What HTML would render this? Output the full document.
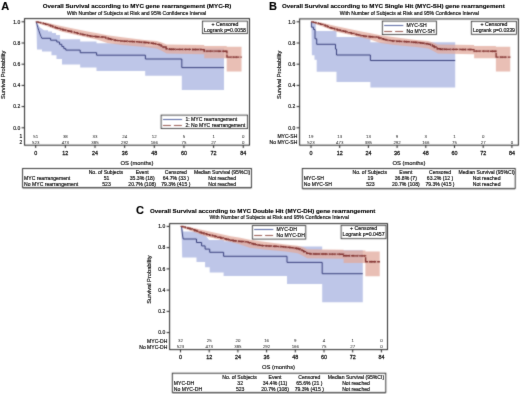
<!DOCTYPE html>
<html><head><meta charset="utf-8"><style>
html,body{margin:0;padding:0;background:#fff;}
svg{display:block;font-family:"Liberation Sans", sans-serif;}
</style></head><body>
<svg width="520" height="394" viewBox="0 0 520 394">
<defs><filter id="soft" x="0" y="0" width="520" height="394" filterUnits="userSpaceOnUse" color-interpolation-filters="sRGB"><feConvolveMatrix order="3" kernelMatrix="1 2 1 2 12 2 1 2 1" divisor="24" edgeMode="duplicate"/></filter>
<filter id="softt" x="0" y="0" width="520" height="394" filterUnits="userSpaceOnUse" color-interpolation-filters="sRGB"><feConvolveMatrix order="3" kernelMatrix="0 1 0 1 12 1 0 1 0" divisor="16" edgeMode="none" preserveAlpha="false"/></filter></defs>
<g filter="url(#soft)">
<rect width="520" height="394" fill="#fff"/>
<path d="M36.3,21.9 L40,27.6 L44,30.3 H48 V31.5 H52 V33 H56 V35 H60 V39.3 H80.2 V41.6 H96.5 V43.3 H145.2 V46 H166 V48.5 H224 V90 H181.8 V75.8 H145.2 V71 H96.5 V67.6 H80.2 V64.5 H62 V59 H56.5 V55.3 H51.5 V51.4 H42 V49.5 H37 L36.6,30Z" fill="#bec6e8"/>
<path d="M35.7,21.8 L38.17,21.91 L45.58,22.54 L62.14,26.25 L87.59,31.55 L97.48,33.25 L107.36,35.16 L122.19,37.17 L144.42,39.93 L156.78,41.09 L161.72,42.47 L166.66,44.48 L204.22,45.01 L204.22,45.97 L226.71,45.97 L226.71,46.82 L241.53,46.82 L241.53,71.51 L226.71,71.51 L226.71,58.26 L204.22,58.26 L204.22,54.13 L166.66,53.6 L161.72,50.84 L156.78,48.51 L144.42,46.92 L122.19,44.91 L107.36,43 L97.48,39.82 L87.59,37.49 L62.14,31.87 L45.58,25.83 L38.17,23.28 L35.7,21.8Z" fill="rgba(226,170,156,0.75)"/>
<path d="M36.3,21.9 L37,24.5 L37.8,27.5 L38.8,30.5 L40,34 L41,36.5 L41.8,38.3 H50.6 V40.2 H56.8 V42 H59.5 V44.3 H61.8 V46.5 H63.8 V48.6 H65.8 V50.1 H80.2 V52.7 H96.6 V55.2 H145.4 V59 H181.8 V67.6 H224" fill="none" stroke="#2e3674" stroke-width="0.95"/>
<path d="M35.7,21.8 L38.17,21.8 L38.17,22.33 L40.64,22.33 L40.64,22.86 L43.11,22.86 L43.11,23.6 L45.58,23.6 L45.58,24.34 L48.06,24.34 L48.06,25.14 L50.53,25.14 L50.53,25.93 L52.75,25.93 L52.75,26.75 L54.97,26.75 L54.97,27.56 L57.2,27.56 L57.2,28.37 L60.04,28.37 L60.04,29.17 L62.88,29.17 L62.88,29.96 L65.85,29.96 L65.85,30.6 L68.81,30.6 L68.81,31.23 L71.53,31.23 L71.53,31.92 L74.25,31.92 L74.25,32.61 L77.21,32.61 L77.21,33.35 L80.18,33.35 L80.18,34.1 L82.65,34.1 L82.65,34.63 L85.12,34.63 L85.12,35.16 L87.59,35.16 L87.59,35.63 L90.06,35.63 L90.06,36.11 L93.15,36.11 L93.15,36.43 L96.24,36.43 L96.24,36.75 L98.55,36.75 L98.55,36.89 L100.85,36.89 L100.85,37.03 L103.16,37.03 L103.16,37.17 L105.63,37.17 L105.63,37.97 L108.1,37.97 L108.1,38.76 L110.57,38.76 L110.57,39.4 L113.04,39.4 L113.04,40.03 L115.27,40.03 L115.27,40.35 L117.49,40.35 L117.49,40.67 L119.71,40.67 L119.71,40.99 L122.19,40.99 L122.19,41.12 L124.66,41.12 L124.66,41.25 L127.13,41.25 L127.13,41.38 L129.6,41.38 L129.6,41.52 L132.07,41.52 L132.07,41.62 L134.54,41.62 L134.54,41.73 L137.01,41.73 L137.01,41.83 L139.48,41.83 L139.48,42.05 L141.95,42.05 L141.95,42.26 L144.42,42.26 L144.42,42.47 L146.9,42.47 L146.9,42.68 L149.06,42.68 L149.06,42.97 L151.22,42.97 L151.22,43.26 L153.38,43.26 L153.38,43.56 L155.54,43.56 L155.54,43.85 L157.4,43.85 L157.4,44.38 L159.25,44.38 L159.25,44.91 L161.1,44.91 L161.1,45.97 L162.96,45.97 L162.96,47.03 L166.17,47.03 L166.17,48.72 L169.13,48.72 L169.13,49.25 L171.61,49.25 L171.61,49.28 L174.08,49.28 L174.08,49.3 L176.55,49.3 L176.55,49.32 L179.02,49.32 L179.02,49.34 L181.49,49.34 L181.49,49.37 L183.96,49.37 L183.96,49.39 L186.43,49.39 L186.43,49.41 L188.9,49.41 L188.9,49.44 L191.37,49.44 L191.37,49.46 L193.84,49.46 L193.84,49.48 L196.31,49.48 L196.31,49.5 L198.79,49.5 L198.79,49.53 L201.26,49.53 L201.26,49.55 L203.73,49.55 L203.73,49.57 L204.22,49.57 L204.22,51.06 L206.69,51.06 L206.69,51.08 L209.16,51.08 L209.16,51.1 L211.64,51.1 L211.64,51.13 L214.11,51.13 L214.11,51.15 L216.58,51.15 L216.58,51.17 L219.05,51.17 L219.05,51.2 L221.52,51.2 L221.52,51.22 L223.99,51.22 L223.99,51.24 L226.46,51.24 L226.46,51.27 L226.96,51.27 L226.96,57.1 L241.78,57.1" fill="none" stroke="#80302e" stroke-width="1.35" stroke-dasharray="7 1"/>
<path d="M50.53,24.83v2.2M55.83,26.77v2.2M60.28,28.14v2.2M67.21,29.79v2.2M71.27,30.76v2.2M77.63,32.36v2.2M83.14,33.63v2.2M87.13,34.44v2.2M90.62,35.07v2.2M92.25,35.24v2.2M95.45,35.56v2.2M97.21,35.71v2.2M99.05,35.82v2.2M102.21,36.01v2.2M106.96,37.29v2.2M108.94,37.88v2.2M111.3,38.48v2.2M115.26,39.25v2.2M120.49,39.93v2.2M124.26,40.13v2.2M127.31,40.29v2.2M132.65,40.55v2.2M134.32,40.62v2.2M139.19,40.92v2.2M141.82,41.15v2.2M143.88,41.32v2.2M145.82,41.49v2.2M148.53,41.8v2.2M153.23,42.44v2.2M155.43,42.73v2.2M159.21,43.8v2.2M163.22,46.07v2.2M166.18,47.63v2.2M169.83,48.16v2.2M171.56,48.18v2.2M173.27,48.19v2.2M175.57,48.21v2.2M179.74,48.25v2.2M182.92,48.28v2.2M185.64,48.31v2.2M189.44,48.34v2.2M192.71,48.37v2.2M195.38,48.4v2.2M200.01,48.44v2.2M204.25,49.96v2.2M206.7,49.98v2.2M210.45,50.02v2.2M214.01,50.05v2.2M218.95,50.1v2.2M223.32,50.14v2.2M225.94,50.16v2.2M231.3,56v2.2M233.25,56v2.2M236.38,56v2.2" stroke="#80302e" stroke-width="0.55" fill="none"/>
<rect x="24.55" y="18.6" width="224.95" height="126.6" fill="none" stroke="#262626" stroke-width="1"/>
<line x1="21.55" y1="127.8" x2="24.55" y2="127.8" stroke="#262626" stroke-width="1"/>
<line x1="21.55" y1="106.6" x2="24.55" y2="106.6" stroke="#262626" stroke-width="1"/>
<line x1="21.55" y1="85.4" x2="24.55" y2="85.4" stroke="#262626" stroke-width="1"/>
<line x1="21.55" y1="64.2" x2="24.55" y2="64.2" stroke="#262626" stroke-width="1"/>
<line x1="21.55" y1="43" x2="24.55" y2="43" stroke="#262626" stroke-width="1"/>
<line x1="21.55" y1="21.8" x2="24.55" y2="21.8" stroke="#262626" stroke-width="1"/>
<line x1="35.7" y1="145.2" x2="35.7" y2="148" stroke="#262626" stroke-width="1"/>
<line x1="65.35" y1="145.2" x2="65.35" y2="148" stroke="#262626" stroke-width="1"/>
<line x1="95" y1="145.2" x2="95" y2="148" stroke="#262626" stroke-width="1"/>
<line x1="124.66" y1="145.2" x2="124.66" y2="148" stroke="#262626" stroke-width="1"/>
<line x1="154.31" y1="145.2" x2="154.31" y2="148" stroke="#262626" stroke-width="1"/>
<line x1="183.96" y1="145.2" x2="183.96" y2="148" stroke="#262626" stroke-width="1"/>
<line x1="213.61" y1="145.2" x2="213.61" y2="148" stroke="#262626" stroke-width="1"/>
<line x1="243.26" y1="145.2" x2="243.26" y2="148" stroke="#262626" stroke-width="1"/>
<rect x="202.4" y="21.1" width="45.2" height="12.5" fill="#fff" stroke="#262626" stroke-width="0.8"/>
<rect x="161.1" y="115.1" width="86.5" height="13.5" fill="#fff" stroke="#262626" stroke-width="0.8"/>
<line x1="162.9" y1="119.5" x2="182.1" y2="119.5" stroke="#5766a2" stroke-width="1"/>
<line x1="162.9" y1="125.5" x2="182.1" y2="125.5" stroke="#985850" stroke-width="1" stroke-dasharray="8 3"/>
<rect x="22.6" y="168.5" width="228.8" height="19.1" fill="none" stroke="#262626" stroke-width="0.9"/>
<line x1="22.6" y1="188.3" x2="251.4" y2="188.3" stroke="#777" stroke-width="0.7"/>
<path d="M311.4,21.9 L315.8,23.2 V30.9 H336.5 V37 H370.4 V42.2 H455.2 V87.6 H370.4 V82 H336.5 V71.7 H316.7 V59.8 H314.5 V55.2 H311.9 Z" fill="#bec6e8"/>
<path d="M311,21.8 L313.39,21.91 L320.57,22.54 L336.59,26.25 L361.23,31.55 L370.79,33.25 L380.36,35.16 L394.71,37.17 L416.23,39.93 L428.19,41.09 L432.98,42.47 L437.76,44.48 L474.11,45.01 L474.11,45.97 L495.88,45.97 L495.88,46.82 L510.23,46.82 L510.23,71.51 L495.88,71.51 L495.88,58.26 L474.11,58.26 L474.11,54.13 L437.76,53.6 L432.98,50.84 L428.19,48.51 L416.23,46.92 L394.71,44.91 L380.36,43 L370.79,39.82 L361.23,37.49 L336.59,31.87 L320.57,25.83 L313.39,23.28 L311,21.8Z" fill="rgba(226,170,156,0.75)"/>
<path d="M311.4,21.9 V27.2 H313.6 V29.5 H315 V38.8 H316.7 V44.3 H335.5 V49.1 H336.5 V55 H370.4 V60.5 H455.2" fill="none" stroke="#2e3674" stroke-width="0.95"/>
<path d="M311,21.8 L313.39,21.8 L313.39,22.33 L315.78,22.33 L315.78,22.86 L318.18,22.86 L318.18,23.6 L320.57,23.6 L320.57,24.34 L322.96,24.34 L322.96,25.14 L325.35,25.14 L325.35,25.93 L327.5,25.93 L327.5,26.75 L329.66,26.75 L329.66,27.56 L331.81,27.56 L331.81,28.37 L334.56,28.37 L334.56,29.17 L337.31,29.17 L337.31,29.96 L340.18,29.96 L340.18,30.6 L343.05,30.6 L343.05,31.23 L345.68,31.23 L345.68,31.92 L348.31,31.92 L348.31,32.61 L351.18,32.61 L351.18,33.35 L354.05,33.35 L354.05,34.1 L356.44,34.1 L356.44,34.63 L358.83,34.63 L358.83,35.16 L361.23,35.16 L361.23,35.63 L363.62,35.63 L363.62,36.11 L366.61,36.11 L366.61,36.43 L369.6,36.43 L369.6,36.75 L371.83,36.75 L371.83,36.89 L374.06,36.89 L374.06,37.03 L376.29,37.03 L376.29,37.17 L378.69,37.17 L378.69,37.97 L381.08,37.97 L381.08,38.76 L383.47,38.76 L383.47,39.4 L385.86,39.4 L385.86,40.03 L388.01,40.03 L388.01,40.35 L390.17,40.35 L390.17,40.67 L392.32,40.67 L392.32,40.99 L394.71,40.99 L394.71,41.12 L397.1,41.12 L397.1,41.25 L399.49,41.25 L399.49,41.38 L401.88,41.38 L401.88,41.52 L404.28,41.52 L404.28,41.62 L406.67,41.62 L406.67,41.73 L409.06,41.73 L409.06,41.83 L411.45,41.83 L411.45,42.05 L413.84,42.05 L413.84,42.26 L416.23,42.26 L416.23,42.47 L418.63,42.47 L418.63,42.68 L420.72,42.68 L420.72,42.97 L422.81,42.97 L422.81,43.26 L424.9,43.26 L424.9,43.56 L427,43.56 L427,43.85 L428.79,43.85 L428.79,44.38 L430.59,44.38 L430.59,44.91 L432.38,44.91 L432.38,45.97 L434.17,45.97 L434.17,47.03 L437.28,47.03 L437.28,48.72 L440.15,48.72 L440.15,49.25 L442.54,49.25 L442.54,49.28 L444.94,49.28 L444.94,49.3 L447.33,49.3 L447.33,49.32 L449.72,49.32 L449.72,49.34 L452.11,49.34 L452.11,49.37 L454.5,49.37 L454.5,49.39 L456.89,49.39 L456.89,49.41 L459.29,49.41 L459.29,49.44 L461.68,49.44 L461.68,49.46 L464.07,49.46 L464.07,49.48 L466.46,49.48 L466.46,49.5 L468.85,49.5 L468.85,49.53 L471.24,49.53 L471.24,49.55 L473.64,49.55 L473.64,49.57 L474.11,49.57 L474.11,51.06 L476.51,51.06 L476.51,51.08 L478.9,51.08 L478.9,51.1 L481.29,51.1 L481.29,51.13 L483.68,51.13 L483.68,51.15 L486.07,51.15 L486.07,51.17 L488.46,51.17 L488.46,51.2 L490.86,51.2 L490.86,51.22 L493.25,51.22 L493.25,51.24 L495.64,51.24 L495.64,51.27 L496.12,51.27 L496.12,57.1 L510.47,57.1" fill="none" stroke="#80302e" stroke-width="1.35" stroke-dasharray="7 1"/>
<path d="M325.35,24.83v2.2M330.49,26.77v2.2M334.8,28.14v2.2M341.5,29.79v2.2M345.43,30.76v2.2M351.58,32.36v2.2M356.92,33.63v2.2M360.78,34.44v2.2M364.16,35.07v2.2M365.74,35.24v2.2M368.83,35.56v2.2M370.54,35.71v2.2M372.32,35.82v2.2M375.38,36.01v2.2M379.98,37.29v2.2M381.89,37.88v2.2M384.17,38.48v2.2M388.01,39.25v2.2M393.07,39.93v2.2M396.72,40.13v2.2M399.67,40.29v2.2M404.84,40.55v2.2M406.45,40.62v2.2M411.17,40.92v2.2M413.72,41.15v2.2M415.7,41.32v2.2M417.59,41.49v2.2M420.2,41.8v2.2M424.76,42.44v2.2M426.89,42.73v2.2M430.55,43.8v2.2M434.43,46.07v2.2M437.29,47.63v2.2M440.82,48.16v2.2M442.5,48.18v2.2M444.16,48.19v2.2M446.38,48.21v2.2M450.42,48.25v2.2M453.49,48.28v2.2M456.13,48.31v2.2M459.81,48.34v2.2M462.98,48.37v2.2M465.56,48.4v2.2M470.03,48.44v2.2M474.14,49.96v2.2M476.51,49.98v2.2M480.14,50.02v2.2M483.59,50.05v2.2M488.37,50.1v2.2M492.6,50.14v2.2M495.14,50.16v2.2M500.32,56v2.2M502.21,56v2.2M505.24,56v2.2" stroke="#80302e" stroke-width="0.55" fill="none"/>
<rect x="299.6" y="18.9" width="218.8" height="126.3" fill="none" stroke="#262626" stroke-width="1"/>
<line x1="296.6" y1="127.8" x2="299.6" y2="127.8" stroke="#262626" stroke-width="1"/>
<line x1="296.6" y1="106.6" x2="299.6" y2="106.6" stroke="#262626" stroke-width="1"/>
<line x1="296.6" y1="85.4" x2="299.6" y2="85.4" stroke="#262626" stroke-width="1"/>
<line x1="296.6" y1="64.2" x2="299.6" y2="64.2" stroke="#262626" stroke-width="1"/>
<line x1="296.6" y1="43" x2="299.6" y2="43" stroke="#262626" stroke-width="1"/>
<line x1="296.6" y1="21.8" x2="299.6" y2="21.8" stroke="#262626" stroke-width="1"/>
<line x1="311" y1="145.2" x2="311" y2="148" stroke="#262626" stroke-width="1"/>
<line x1="339.7" y1="145.2" x2="339.7" y2="148" stroke="#262626" stroke-width="1"/>
<line x1="368.4" y1="145.2" x2="368.4" y2="148" stroke="#262626" stroke-width="1"/>
<line x1="397.1" y1="145.2" x2="397.1" y2="148" stroke="#262626" stroke-width="1"/>
<line x1="425.8" y1="145.2" x2="425.8" y2="148" stroke="#262626" stroke-width="1"/>
<line x1="454.5" y1="145.2" x2="454.5" y2="148" stroke="#262626" stroke-width="1"/>
<line x1="483.2" y1="145.2" x2="483.2" y2="148" stroke="#262626" stroke-width="1"/>
<line x1="511.9" y1="145.2" x2="511.9" y2="148" stroke="#262626" stroke-width="1"/>
<rect x="471.3" y="21.3" width="45.3" height="13" fill="#fff" stroke="#262626" stroke-width="0.8"/>
<rect x="382.3" y="21.1" width="54.2" height="13.5" fill="#fff" stroke="#262626" stroke-width="0.8"/>
<line x1="384.1" y1="25.5" x2="403.3" y2="25.5" stroke="#5766a2" stroke-width="1"/>
<line x1="384.1" y1="31.5" x2="403.3" y2="31.5" stroke="#985850" stroke-width="1" stroke-dasharray="8 3"/>
<rect x="302.3" y="168.5" width="212.9" height="19.9" fill="none" stroke="#262626" stroke-width="0.9"/>
<line x1="302.3" y1="189.1" x2="515.2" y2="189.1" stroke="#777" stroke-width="0.7"/>
<path d="M181.5,226.3 L183.2,231.5 H196.5 L201,234 L205.7,235.8 L209,240 H224 V241.3 H235 L245,243 L260,245 L287,246.5 H322.2 V250.3 H362.8 V302.3 H322.2 V284.1 H287 V276 H223.6 V272.6 H209.7 V267.3 H205.1 V262 H196.5 V257.5 H182.2 L181.5,228 Z" fill="#bec6e8"/>
<path d="M180.5,226.4 L182.89,226.51 L190.07,227.14 L206.09,230.86 L230.73,236.17 L240.29,237.87 L249.86,239.78 L264.21,241.8 L285.73,244.56 L297.69,245.73 L302.48,247.11 L307.26,249.13 L343.61,249.66 L343.61,250.61 L365.38,250.61 L365.38,251.46 L379.73,251.46 L379.73,276.21 L365.38,276.21 L365.38,262.93 L343.61,262.93 L343.61,258.79 L307.26,258.26 L302.48,255.5 L297.69,253.16 L285.73,251.57 L264.21,249.55 L249.86,247.64 L240.29,244.45 L230.73,242.12 L206.09,236.49 L190.07,230.44 L182.89,227.89 L180.5,226.4Z" fill="rgba(226,170,156,0.75)"/>
<path d="M181.5,226.3 L182,231 L182.6,236 L183.2,239 H196.5 V242.5 H201.6 V245.9 H205.1 V249.1 H209.7 V252.3 H223.6 V256.3 H287 V262.4 H322.2 V273.7 H362.8" fill="none" stroke="#2e3674" stroke-width="0.95"/>
<path d="M180.5,226.4 L182.89,226.4 L182.89,226.93 L185.28,226.93 L185.28,227.46 L187.68,227.46 L187.68,228.21 L190.07,228.21 L190.07,228.95 L192.46,228.95 L192.46,229.75 L194.85,229.75 L194.85,230.54 L197,230.54 L197,231.36 L199.16,231.36 L199.16,232.17 L201.31,232.17 L201.31,232.98 L204.06,232.98 L204.06,233.78 L206.81,233.78 L206.81,234.58 L209.68,234.58 L209.68,235.21 L212.55,235.21 L212.55,235.85 L215.18,235.85 L215.18,236.54 L217.81,236.54 L217.81,237.23 L220.68,237.23 L220.68,237.98 L223.55,237.98 L223.55,238.72 L225.94,238.72 L225.94,239.25 L228.33,239.25 L228.33,239.78 L230.73,239.78 L230.73,240.26 L233.12,240.26 L233.12,240.74 L236.11,240.74 L236.11,241.06 L239.1,241.06 L239.1,241.37 L241.33,241.37 L241.33,241.52 L243.56,241.52 L243.56,241.66 L245.79,241.66 L245.79,241.8 L248.19,241.8 L248.19,242.6 L250.58,242.6 L250.58,243.39 L252.97,243.39 L252.97,244.03 L255.36,244.03 L255.36,244.67 L257.51,244.67 L257.51,244.99 L259.67,244.99 L259.67,245.3 L261.82,245.3 L261.82,245.62 L264.21,245.62 L264.21,245.75 L266.6,245.75 L266.6,245.89 L268.99,245.89 L268.99,246.02 L271.38,246.02 L271.38,246.15 L273.78,246.15 L273.78,246.26 L276.17,246.26 L276.17,246.37 L278.56,246.37 L278.56,246.47 L280.95,246.47 L280.95,246.68 L283.34,246.68 L283.34,246.9 L285.73,246.9 L285.73,247.11 L288.13,247.11 L288.13,247.32 L290.22,247.32 L290.22,247.61 L292.31,247.61 L292.31,247.91 L294.4,247.91 L294.4,248.2 L296.5,248.2 L296.5,248.49 L298.29,248.49 L298.29,249.02 L300.09,249.02 L300.09,249.55 L301.88,249.55 L301.88,250.61 L303.67,250.61 L303.67,251.68 L306.78,251.68 L306.78,253.37 L309.65,253.37 L309.65,253.91 L312.04,253.91 L312.04,253.93 L314.44,253.93 L314.44,253.95 L316.83,253.95 L316.83,253.97 L319.22,253.97 L319.22,254 L321.61,254 L321.61,254.02 L324,254.02 L324,254.04 L326.39,254.04 L326.39,254.07 L328.79,254.07 L328.79,254.09 L331.18,254.09 L331.18,254.11 L333.57,254.11 L333.57,254.13 L335.96,254.13 L335.96,254.16 L338.35,254.16 L338.35,254.18 L340.74,254.18 L340.74,254.2 L343.14,254.2 L343.14,254.22 L343.61,254.22 L343.61,255.71 L346.01,255.71 L346.01,255.73 L348.4,255.73 L348.4,255.76 L350.79,255.76 L350.79,255.78 L353.18,255.78 L353.18,255.81 L355.57,255.81 L355.57,255.83 L357.96,255.83 L357.96,255.85 L360.36,255.85 L360.36,255.88 L362.75,255.88 L362.75,255.9 L365.14,255.9 L365.14,255.92 L365.62,255.92 L365.62,261.76 L379.97,261.76" fill="none" stroke="#80302e" stroke-width="1.35" stroke-dasharray="7 1"/>
<path d="M194.85,229.44v2.2M199.99,231.38v2.2M204.3,232.75v2.2M211,234.41v2.2M214.93,235.38v2.2M221.08,236.98v2.2M226.42,238.26v2.2M230.28,239.07v2.2M233.66,239.69v2.2M235.24,239.86v2.2M238.33,240.19v2.2M240.04,240.33v2.2M241.82,240.45v2.2M244.88,240.64v2.2M249.48,241.93v2.2M251.39,242.51v2.2M253.67,243.12v2.2M257.51,243.88v2.2M262.57,244.56v2.2M266.22,244.77v2.2M269.17,244.93v2.2M274.34,245.18v2.2M275.95,245.26v2.2M280.67,245.56v2.2M283.22,245.79v2.2M285.2,245.96v2.2M287.09,246.13v2.2M289.7,246.44v2.2M294.26,247.08v2.2M296.39,247.37v2.2M300.05,248.44v2.2M303.93,250.72v2.2M306.79,252.28v2.2M310.32,252.81v2.2M312,252.83v2.2M313.66,252.84v2.2M315.88,252.87v2.2M319.92,252.9v2.2M322.99,252.93v2.2M325.63,252.96v2.2M329.31,252.99v2.2M332.48,253.02v2.2M335.06,253.05v2.2M339.53,253.09v2.2M343.64,254.61v2.2M346.01,254.63v2.2M349.64,254.67v2.2M353.09,254.7v2.2M357.87,254.75v2.2M362.1,254.79v2.2M364.64,254.82v2.2M369.82,260.66v2.2M371.71,260.66v2.2M374.74,260.66v2.2" stroke="#80302e" stroke-width="0.55" fill="none"/>
<rect x="169.6" y="223.6" width="217.9" height="126" fill="none" stroke="#262626" stroke-width="1"/>
<line x1="166.6" y1="332.6" x2="169.6" y2="332.6" stroke="#262626" stroke-width="1"/>
<line x1="166.6" y1="311.36" x2="169.6" y2="311.36" stroke="#262626" stroke-width="1"/>
<line x1="166.6" y1="290.12" x2="169.6" y2="290.12" stroke="#262626" stroke-width="1"/>
<line x1="166.6" y1="268.88" x2="169.6" y2="268.88" stroke="#262626" stroke-width="1"/>
<line x1="166.6" y1="247.64" x2="169.6" y2="247.64" stroke="#262626" stroke-width="1"/>
<line x1="166.6" y1="226.4" x2="169.6" y2="226.4" stroke="#262626" stroke-width="1"/>
<line x1="180.5" y1="349.6" x2="180.5" y2="352.4" stroke="#262626" stroke-width="1"/>
<line x1="209.2" y1="349.6" x2="209.2" y2="352.4" stroke="#262626" stroke-width="1"/>
<line x1="237.9" y1="349.6" x2="237.9" y2="352.4" stroke="#262626" stroke-width="1"/>
<line x1="266.6" y1="349.6" x2="266.6" y2="352.4" stroke="#262626" stroke-width="1"/>
<line x1="295.3" y1="349.6" x2="295.3" y2="352.4" stroke="#262626" stroke-width="1"/>
<line x1="324" y1="349.6" x2="324" y2="352.4" stroke="#262626" stroke-width="1"/>
<line x1="352.7" y1="349.6" x2="352.7" y2="352.4" stroke="#262626" stroke-width="1"/>
<line x1="381.4" y1="349.6" x2="381.4" y2="352.4" stroke="#262626" stroke-width="1"/>
<rect x="341.1" y="225.3" width="44.9" height="13.4" fill="#fff" stroke="#262626" stroke-width="0.8"/>
<rect x="252.3" y="225.6" width="53.5" height="13.5" fill="#fff" stroke="#262626" stroke-width="0.8"/>
<line x1="254.1" y1="229.5" x2="273.3" y2="229.5" stroke="#5766a2" stroke-width="1"/>
<line x1="254.1" y1="235.5" x2="273.3" y2="235.5" stroke="#985850" stroke-width="1" stroke-dasharray="8 3"/>
<rect x="172.3" y="373.2" width="213.5" height="19.2" fill="none" stroke="#262626" stroke-width="0.9"/>
<line x1="172.3" y1="393.1" x2="385.8" y2="393.1" stroke="#777" stroke-width="0.7"/>
</g>
<g filter="url(#softt)">
<text x="20.25" y="129.6" font-size="5" text-anchor="end" fill="#1a1a1a" stroke="#1a1a1a" stroke-width="0.18">0.0</text>
<text x="20.25" y="108.4" font-size="5" text-anchor="end" fill="#1a1a1a" stroke="#1a1a1a" stroke-width="0.18">0.2</text>
<text x="20.25" y="87.2" font-size="5" text-anchor="end" fill="#1a1a1a" stroke="#1a1a1a" stroke-width="0.18">0.4</text>
<text x="20.25" y="66" font-size="5" text-anchor="end" fill="#1a1a1a" stroke="#1a1a1a" stroke-width="0.18">0.6</text>
<text x="20.25" y="44.8" font-size="5" text-anchor="end" fill="#1a1a1a" stroke="#1a1a1a" stroke-width="0.18">0.8</text>
<text x="20.25" y="23.6" font-size="5" text-anchor="end" fill="#1a1a1a" stroke="#1a1a1a" stroke-width="0.18">1.0</text>
<text x="35.7" y="154.9" font-size="5.4" text-anchor="middle" fill="#1a1a1a" stroke="#1a1a1a" stroke-width="0.26">0</text>
<text x="65.35" y="154.9" font-size="5.4" text-anchor="middle" fill="#1a1a1a" stroke="#1a1a1a" stroke-width="0.26">12</text>
<text x="95" y="154.9" font-size="5.4" text-anchor="middle" fill="#1a1a1a" stroke="#1a1a1a" stroke-width="0.26">24</text>
<text x="124.66" y="154.9" font-size="5.4" text-anchor="middle" fill="#1a1a1a" stroke="#1a1a1a" stroke-width="0.26">36</text>
<text x="154.31" y="154.9" font-size="5.4" text-anchor="middle" fill="#1a1a1a" stroke="#1a1a1a" stroke-width="0.26">48</text>
<text x="183.96" y="154.9" font-size="5.4" text-anchor="middle" fill="#1a1a1a" stroke="#1a1a1a" stroke-width="0.26">60</text>
<text x="213.61" y="154.9" font-size="5.4" text-anchor="middle" fill="#1a1a1a" stroke="#1a1a1a" stroke-width="0.26">72</text>
<text x="243.26" y="154.9" font-size="5.4" text-anchor="middle" fill="#1a1a1a" stroke="#1a1a1a" stroke-width="0.26">84</text>
<text x="137.03" y="165" font-size="5.8" text-anchor="middle" fill="#1a1a1a" stroke="#1a1a1a" stroke-width="0.2">OS (months)</text>
<text x="0" y="0" font-size="5.7" text-anchor="middle" fill="#1a1a1a" stroke="#1a1a1a" stroke-width="0.2" transform="translate(5.25,74.8) rotate(-90)">Survival Probability</text>
<text x="1.2" y="10.1" font-size="11" text-anchor="start" font-weight="bold" fill="#000" stroke="#000" stroke-width="0.14">A</text>
<text x="137" y="8.3" font-size="6.2" text-anchor="middle" font-weight="bold" fill="#000" stroke="#000" stroke-width="0.14">Overall Survival according to MYC gene rearrangement (MYC-R)</text>
<text x="136.6" y="14.5" font-size="5.07" text-anchor="middle" fill="#1a1a1a" stroke="#1a1a1a" stroke-width="0.2">With Number of Subjects at Risk and 95% Confidence Interval</text>
<text x="22.25" y="138.16" font-size="4.9" text-anchor="end" fill="#1a1a1a" stroke="#1a1a1a" stroke-width="0.2">1</text>
<text x="22.25" y="144.06" font-size="4.9" text-anchor="end" fill="#1a1a1a" stroke="#1a1a1a" stroke-width="0.2">2</text>
<text x="35.7" y="138" font-size="4.4" text-anchor="middle" fill="#3a3a3a" stroke="#3a3a3a" stroke-width="0.04">51</text>
<text x="65.35" y="138" font-size="4.4" text-anchor="middle" fill="#3a3a3a" stroke="#3a3a3a" stroke-width="0.04">38</text>
<text x="95" y="138" font-size="4.4" text-anchor="middle" fill="#3a3a3a" stroke="#3a3a3a" stroke-width="0.04">33</text>
<text x="124.66" y="138" font-size="4.4" text-anchor="middle" fill="#3a3a3a" stroke="#3a3a3a" stroke-width="0.04">24</text>
<text x="154.31" y="138" font-size="4.4" text-anchor="middle" fill="#3a3a3a" stroke="#3a3a3a" stroke-width="0.04">12</text>
<text x="183.96" y="138" font-size="4.4" text-anchor="middle" fill="#3a3a3a" stroke="#3a3a3a" stroke-width="0.04">5</text>
<text x="213.61" y="138" font-size="4.4" text-anchor="middle" fill="#3a3a3a" stroke="#3a3a3a" stroke-width="0.04">1</text>
<text x="243.26" y="138" font-size="4.4" text-anchor="middle" fill="#3a3a3a" stroke="#3a3a3a" stroke-width="0.04">0</text>
<text x="35.7" y="143.9" font-size="4.4" text-anchor="middle" fill="#3a3a3a" stroke="#3a3a3a" stroke-width="0.04">523</text>
<text x="65.35" y="143.9" font-size="4.4" text-anchor="middle" fill="#3a3a3a" stroke="#3a3a3a" stroke-width="0.04">473</text>
<text x="95" y="143.9" font-size="4.4" text-anchor="middle" fill="#3a3a3a" stroke="#3a3a3a" stroke-width="0.04">385</text>
<text x="124.66" y="143.9" font-size="4.4" text-anchor="middle" fill="#3a3a3a" stroke="#3a3a3a" stroke-width="0.04">292</text>
<text x="154.31" y="143.9" font-size="4.4" text-anchor="middle" fill="#3a3a3a" stroke="#3a3a3a" stroke-width="0.04">166</text>
<text x="183.96" y="143.9" font-size="4.4" text-anchor="middle" fill="#3a3a3a" stroke="#3a3a3a" stroke-width="0.04">75</text>
<text x="213.61" y="143.9" font-size="4.4" text-anchor="middle" fill="#3a3a3a" stroke="#3a3a3a" stroke-width="0.04">27</text>
<text x="243.26" y="143.9" font-size="4.4" text-anchor="middle" fill="#3a3a3a" stroke="#3a3a3a" stroke-width="0.04">0</text>
<text x="225" y="25.9" font-size="5.2" text-anchor="middle" fill="#1a1a1a" stroke="#1a1a1a" stroke-width="0.2">+ Censored</text>
<text x="225" y="32" font-size="5.2" text-anchor="middle" fill="#1a1a1a" stroke="#1a1a1a" stroke-width="0.2">Logrank p=0.0058</text>
<text x="185.4" y="121.3" font-size="5.1" text-anchor="start" fill="#1a1a1a" stroke="#1a1a1a" stroke-width="0.2">1: MYC rearrangement</text>
<text x="185.4" y="127.3" font-size="5.1" text-anchor="start" fill="#1a1a1a" stroke="#1a1a1a" stroke-width="0.2">2: No MYC rearrangement</text>
<text x="105.9" y="173.8" font-size="5.1" text-anchor="middle" fill="#1a1a1a" stroke="#1a1a1a" stroke-width="0.2">No. of Subjects</text>
<text x="142.2" y="173.8" font-size="5.1" text-anchor="middle" fill="#1a1a1a" stroke="#1a1a1a" stroke-width="0.2">Event</text>
<text x="175.8" y="173.8" font-size="5.1" text-anchor="middle" fill="#1a1a1a" stroke="#1a1a1a" stroke-width="0.2">Censored</text>
<text x="222.1" y="173.8" font-size="5.1" text-anchor="middle" fill="#1a1a1a" stroke="#1a1a1a" stroke-width="0.2">Median Survival (95%CI)</text>
<text x="24.1" y="180" font-size="5.1" text-anchor="start" fill="#1a1a1a" stroke="#1a1a1a" stroke-width="0.2">MYC rearrangement</text>
<text x="106.5" y="180" font-size="5.1" text-anchor="middle" fill="#1a1a1a" stroke="#1a1a1a" stroke-width="0.2">51</text>
<text x="142.2" y="180" font-size="5.1" text-anchor="middle" fill="#1a1a1a" stroke="#1a1a1a" stroke-width="0.2">35.3% (18)</text>
<text x="175.8" y="180" font-size="5.1" text-anchor="middle" fill="#1a1a1a" stroke="#1a1a1a" stroke-width="0.2">64.7% (33 )</text>
<text x="222.1" y="180" font-size="5.1" text-anchor="middle" fill="#1a1a1a" stroke="#1a1a1a" stroke-width="0.2">Not reached</text>
<text x="24.1" y="185.8" font-size="5.1" text-anchor="start" fill="#1a1a1a" stroke="#1a1a1a" stroke-width="0.2">No MYC rearrangement</text>
<text x="106.5" y="185.8" font-size="5.1" text-anchor="middle" fill="#1a1a1a" stroke="#1a1a1a" stroke-width="0.2">523</text>
<text x="142.2" y="185.8" font-size="5.1" text-anchor="middle" fill="#1a1a1a" stroke="#1a1a1a" stroke-width="0.2">20.7% (108)</text>
<text x="175.8" y="185.8" font-size="5.1" text-anchor="middle" fill="#1a1a1a" stroke="#1a1a1a" stroke-width="0.2">79.3% (415 )</text>
<text x="222.1" y="185.8" font-size="5.1" text-anchor="middle" fill="#1a1a1a" stroke="#1a1a1a" stroke-width="0.2">Not reached</text>
<text x="295.3" y="129.6" font-size="5" text-anchor="end" fill="#1a1a1a" stroke="#1a1a1a" stroke-width="0.18">0.0</text>
<text x="295.3" y="108.4" font-size="5" text-anchor="end" fill="#1a1a1a" stroke="#1a1a1a" stroke-width="0.18">0.2</text>
<text x="295.3" y="87.2" font-size="5" text-anchor="end" fill="#1a1a1a" stroke="#1a1a1a" stroke-width="0.18">0.4</text>
<text x="295.3" y="66" font-size="5" text-anchor="end" fill="#1a1a1a" stroke="#1a1a1a" stroke-width="0.18">0.6</text>
<text x="295.3" y="44.8" font-size="5" text-anchor="end" fill="#1a1a1a" stroke="#1a1a1a" stroke-width="0.18">0.8</text>
<text x="295.3" y="23.6" font-size="5" text-anchor="end" fill="#1a1a1a" stroke="#1a1a1a" stroke-width="0.18">1.0</text>
<text x="311" y="154.9" font-size="5.4" text-anchor="middle" fill="#1a1a1a" stroke="#1a1a1a" stroke-width="0.26">0</text>
<text x="339.7" y="154.9" font-size="5.4" text-anchor="middle" fill="#1a1a1a" stroke="#1a1a1a" stroke-width="0.26">12</text>
<text x="368.4" y="154.9" font-size="5.4" text-anchor="middle" fill="#1a1a1a" stroke="#1a1a1a" stroke-width="0.26">24</text>
<text x="397.1" y="154.9" font-size="5.4" text-anchor="middle" fill="#1a1a1a" stroke="#1a1a1a" stroke-width="0.26">36</text>
<text x="425.8" y="154.9" font-size="5.4" text-anchor="middle" fill="#1a1a1a" stroke="#1a1a1a" stroke-width="0.26">48</text>
<text x="454.5" y="154.9" font-size="5.4" text-anchor="middle" fill="#1a1a1a" stroke="#1a1a1a" stroke-width="0.26">60</text>
<text x="483.2" y="154.9" font-size="5.4" text-anchor="middle" fill="#1a1a1a" stroke="#1a1a1a" stroke-width="0.26">72</text>
<text x="511.9" y="154.9" font-size="5.4" text-anchor="middle" fill="#1a1a1a" stroke="#1a1a1a" stroke-width="0.26">84</text>
<text x="409" y="165" font-size="5.8" text-anchor="middle" fill="#1a1a1a" stroke="#1a1a1a" stroke-width="0.2">OS (months)</text>
<text x="0" y="0" font-size="5.7" text-anchor="middle" fill="#1a1a1a" stroke="#1a1a1a" stroke-width="0.2" transform="translate(281.3,74.8) rotate(-90)">Survival Probability</text>
<text x="269.1" y="10.1" font-size="11" text-anchor="start" font-weight="bold" fill="#000" stroke="#000" stroke-width="0.14">B</text>
<text x="281.9" y="8.3" font-size="6.2" text-anchor="start" font-weight="bold" fill="#000" stroke="#000" stroke-width="0.14">Overall Survival according to MYC Single Hit (MYC-SH) gene rearrangement</text>
<text x="409.4" y="14.5" font-size="5.07" text-anchor="middle" fill="#1a1a1a" stroke="#1a1a1a" stroke-width="0.2">With Number of Subjects at Risk and 95% Confidence Interval</text>
<text x="297.3" y="138.22" font-size="5.05" text-anchor="end" fill="#1a1a1a" stroke="#1a1a1a" stroke-width="0.2">MYC-SH</text>
<text x="297.3" y="144.12" font-size="5.05" text-anchor="end" fill="#1a1a1a" stroke="#1a1a1a" stroke-width="0.2">No MYC-SH</text>
<text x="311" y="138" font-size="4.4" text-anchor="middle" fill="#3a3a3a" stroke="#3a3a3a" stroke-width="0.04">19</text>
<text x="339.7" y="138" font-size="4.4" text-anchor="middle" fill="#3a3a3a" stroke="#3a3a3a" stroke-width="0.04">13</text>
<text x="368.4" y="138" font-size="4.4" text-anchor="middle" fill="#3a3a3a" stroke="#3a3a3a" stroke-width="0.04">13</text>
<text x="397.1" y="138" font-size="4.4" text-anchor="middle" fill="#3a3a3a" stroke="#3a3a3a" stroke-width="0.04">9</text>
<text x="425.8" y="138" font-size="4.4" text-anchor="middle" fill="#3a3a3a" stroke="#3a3a3a" stroke-width="0.04">3</text>
<text x="454.5" y="138" font-size="4.4" text-anchor="middle" fill="#3a3a3a" stroke="#3a3a3a" stroke-width="0.04">1</text>
<text x="483.2" y="138" font-size="4.4" text-anchor="middle" fill="#3a3a3a" stroke="#3a3a3a" stroke-width="0.04">0</text>
<text x="311" y="143.9" font-size="4.4" text-anchor="middle" fill="#3a3a3a" stroke="#3a3a3a" stroke-width="0.04">523</text>
<text x="339.7" y="143.9" font-size="4.4" text-anchor="middle" fill="#3a3a3a" stroke="#3a3a3a" stroke-width="0.04">473</text>
<text x="368.4" y="143.9" font-size="4.4" text-anchor="middle" fill="#3a3a3a" stroke="#3a3a3a" stroke-width="0.04">385</text>
<text x="397.1" y="143.9" font-size="4.4" text-anchor="middle" fill="#3a3a3a" stroke="#3a3a3a" stroke-width="0.04">292</text>
<text x="425.8" y="143.9" font-size="4.4" text-anchor="middle" fill="#3a3a3a" stroke="#3a3a3a" stroke-width="0.04">166</text>
<text x="454.5" y="143.9" font-size="4.4" text-anchor="middle" fill="#3a3a3a" stroke="#3a3a3a" stroke-width="0.04">75</text>
<text x="483.2" y="143.9" font-size="4.4" text-anchor="middle" fill="#3a3a3a" stroke="#3a3a3a" stroke-width="0.04">27</text>
<text x="511.9" y="143.9" font-size="4.4" text-anchor="middle" fill="#3a3a3a" stroke="#3a3a3a" stroke-width="0.04">0</text>
<text x="493.95" y="26.1" font-size="5.2" text-anchor="middle" fill="#1a1a1a" stroke="#1a1a1a" stroke-width="0.2">+ Censored</text>
<text x="493.95" y="32.2" font-size="5.2" text-anchor="middle" fill="#1a1a1a" stroke="#1a1a1a" stroke-width="0.2">Logrank p=0.0339</text>
<text x="406.6" y="27.3" font-size="5.1" text-anchor="start" fill="#1a1a1a" stroke="#1a1a1a" stroke-width="0.2">MYC-SH</text>
<text x="406.6" y="33.3" font-size="5.1" text-anchor="start" fill="#1a1a1a" stroke="#1a1a1a" stroke-width="0.2">No MYC-SH</text>
<text x="369.8" y="173.8" font-size="5.1" text-anchor="middle" fill="#1a1a1a" stroke="#1a1a1a" stroke-width="0.2">No. of Subjects</text>
<text x="405.8" y="173.8" font-size="5.1" text-anchor="middle" fill="#1a1a1a" stroke="#1a1a1a" stroke-width="0.2">Event</text>
<text x="440" y="173.8" font-size="5.1" text-anchor="middle" fill="#1a1a1a" stroke="#1a1a1a" stroke-width="0.2">Censored</text>
<text x="486.6" y="173.8" font-size="5.1" text-anchor="middle" fill="#1a1a1a" stroke="#1a1a1a" stroke-width="0.2">Median Survival (95%CI)</text>
<text x="303.8" y="180" font-size="5.1" text-anchor="start" fill="#1a1a1a" stroke="#1a1a1a" stroke-width="0.2">MYC-SH</text>
<text x="370.4" y="180" font-size="5.1" text-anchor="middle" fill="#1a1a1a" stroke="#1a1a1a" stroke-width="0.2">19</text>
<text x="405.8" y="180" font-size="5.1" text-anchor="middle" fill="#1a1a1a" stroke="#1a1a1a" stroke-width="0.2">36.8% (7)</text>
<text x="440" y="180" font-size="5.1" text-anchor="middle" fill="#1a1a1a" stroke="#1a1a1a" stroke-width="0.2">63.2% (12 )</text>
<text x="486.6" y="180" font-size="5.1" text-anchor="middle" fill="#1a1a1a" stroke="#1a1a1a" stroke-width="0.2">Not reached</text>
<text x="303.8" y="185.8" font-size="5.1" text-anchor="start" fill="#1a1a1a" stroke="#1a1a1a" stroke-width="0.2">No MYC-SH</text>
<text x="370.4" y="185.8" font-size="5.1" text-anchor="middle" fill="#1a1a1a" stroke="#1a1a1a" stroke-width="0.2">523</text>
<text x="405.8" y="185.8" font-size="5.1" text-anchor="middle" fill="#1a1a1a" stroke="#1a1a1a" stroke-width="0.2">20.7% (108)</text>
<text x="440" y="185.8" font-size="5.1" text-anchor="middle" fill="#1a1a1a" stroke="#1a1a1a" stroke-width="0.2">79.3% (415 )</text>
<text x="486.6" y="185.8" font-size="5.1" text-anchor="middle" fill="#1a1a1a" stroke="#1a1a1a" stroke-width="0.2">Not reached</text>
<text x="165.3" y="334.4" font-size="5" text-anchor="end" fill="#1a1a1a" stroke="#1a1a1a" stroke-width="0.18">0.0</text>
<text x="165.3" y="313.16" font-size="5" text-anchor="end" fill="#1a1a1a" stroke="#1a1a1a" stroke-width="0.18">0.2</text>
<text x="165.3" y="291.92" font-size="5" text-anchor="end" fill="#1a1a1a" stroke="#1a1a1a" stroke-width="0.18">0.4</text>
<text x="165.3" y="270.68" font-size="5" text-anchor="end" fill="#1a1a1a" stroke="#1a1a1a" stroke-width="0.18">0.6</text>
<text x="165.3" y="249.44" font-size="5" text-anchor="end" fill="#1a1a1a" stroke="#1a1a1a" stroke-width="0.18">0.8</text>
<text x="165.3" y="228.2" font-size="5" text-anchor="end" fill="#1a1a1a" stroke="#1a1a1a" stroke-width="0.18">1.0</text>
<text x="180.5" y="359.3" font-size="5.4" text-anchor="middle" fill="#1a1a1a" stroke="#1a1a1a" stroke-width="0.26">0</text>
<text x="209.2" y="359.3" font-size="5.4" text-anchor="middle" fill="#1a1a1a" stroke="#1a1a1a" stroke-width="0.26">12</text>
<text x="237.9" y="359.3" font-size="5.4" text-anchor="middle" fill="#1a1a1a" stroke="#1a1a1a" stroke-width="0.26">24</text>
<text x="266.6" y="359.3" font-size="5.4" text-anchor="middle" fill="#1a1a1a" stroke="#1a1a1a" stroke-width="0.26">36</text>
<text x="295.3" y="359.3" font-size="5.4" text-anchor="middle" fill="#1a1a1a" stroke="#1a1a1a" stroke-width="0.26">48</text>
<text x="324" y="359.3" font-size="5.4" text-anchor="middle" fill="#1a1a1a" stroke="#1a1a1a" stroke-width="0.26">60</text>
<text x="352.7" y="359.3" font-size="5.4" text-anchor="middle" fill="#1a1a1a" stroke="#1a1a1a" stroke-width="0.26">72</text>
<text x="381.4" y="359.3" font-size="5.4" text-anchor="middle" fill="#1a1a1a" stroke="#1a1a1a" stroke-width="0.26">84</text>
<text x="278.55" y="369.4" font-size="5.8" text-anchor="middle" fill="#1a1a1a" stroke="#1a1a1a" stroke-width="0.2">OS (months)</text>
<text x="0" y="0" font-size="5.7" text-anchor="middle" fill="#1a1a1a" stroke="#1a1a1a" stroke-width="0.2" transform="translate(151,279.5) rotate(-90)">Survival Probability</text>
<text x="136" y="214.2" font-size="11" text-anchor="start" font-weight="bold" fill="#000" stroke="#000" stroke-width="0.14">C</text>
<text x="149.9" y="212.9" font-size="6.2" text-anchor="start" font-weight="bold" fill="#000" stroke="#000" stroke-width="0.14">Overall Survival according to MYC Double Hit (MYC-DH) gene rearrangement</text>
<text x="279.2" y="219.1" font-size="5.07" text-anchor="middle" fill="#1a1a1a" stroke="#1a1a1a" stroke-width="0.2">With Number of Subjects at Risk and 95% Confidence Interval</text>
<text x="167.3" y="342.62" font-size="5.05" text-anchor="end" fill="#1a1a1a" stroke="#1a1a1a" stroke-width="0.2">MYC-DH</text>
<text x="167.3" y="348.52" font-size="5.05" text-anchor="end" fill="#1a1a1a" stroke="#1a1a1a" stroke-width="0.2">No MYC-DH</text>
<text x="180.5" y="342.4" font-size="4.4" text-anchor="middle" fill="#3a3a3a" stroke="#3a3a3a" stroke-width="0.04">32</text>
<text x="209.2" y="342.4" font-size="4.4" text-anchor="middle" fill="#3a3a3a" stroke="#3a3a3a" stroke-width="0.04">25</text>
<text x="237.9" y="342.4" font-size="4.4" text-anchor="middle" fill="#3a3a3a" stroke="#3a3a3a" stroke-width="0.04">20</text>
<text x="266.6" y="342.4" font-size="4.4" text-anchor="middle" fill="#3a3a3a" stroke="#3a3a3a" stroke-width="0.04">16</text>
<text x="295.3" y="342.4" font-size="4.4" text-anchor="middle" fill="#3a3a3a" stroke="#3a3a3a" stroke-width="0.04">9</text>
<text x="324" y="342.4" font-size="4.4" text-anchor="middle" fill="#3a3a3a" stroke="#3a3a3a" stroke-width="0.04">4</text>
<text x="352.7" y="342.4" font-size="4.4" text-anchor="middle" fill="#3a3a3a" stroke="#3a3a3a" stroke-width="0.04">1</text>
<text x="381.4" y="342.4" font-size="4.4" text-anchor="middle" fill="#3a3a3a" stroke="#3a3a3a" stroke-width="0.04">0</text>
<text x="180.5" y="348.3" font-size="4.4" text-anchor="middle" fill="#3a3a3a" stroke="#3a3a3a" stroke-width="0.04">523</text>
<text x="209.2" y="348.3" font-size="4.4" text-anchor="middle" fill="#3a3a3a" stroke="#3a3a3a" stroke-width="0.04">473</text>
<text x="237.9" y="348.3" font-size="4.4" text-anchor="middle" fill="#3a3a3a" stroke="#3a3a3a" stroke-width="0.04">385</text>
<text x="266.6" y="348.3" font-size="4.4" text-anchor="middle" fill="#3a3a3a" stroke="#3a3a3a" stroke-width="0.04">292</text>
<text x="295.3" y="348.3" font-size="4.4" text-anchor="middle" fill="#3a3a3a" stroke="#3a3a3a" stroke-width="0.04">166</text>
<text x="324" y="348.3" font-size="4.4" text-anchor="middle" fill="#3a3a3a" stroke="#3a3a3a" stroke-width="0.04">75</text>
<text x="352.7" y="348.3" font-size="4.4" text-anchor="middle" fill="#3a3a3a" stroke="#3a3a3a" stroke-width="0.04">27</text>
<text x="381.4" y="348.3" font-size="4.4" text-anchor="middle" fill="#3a3a3a" stroke="#3a3a3a" stroke-width="0.04">0</text>
<text x="363.55" y="230.1" font-size="5.2" text-anchor="middle" fill="#1a1a1a" stroke="#1a1a1a" stroke-width="0.2">+ Censored</text>
<text x="363.55" y="236.2" font-size="5.2" text-anchor="middle" fill="#1a1a1a" stroke="#1a1a1a" stroke-width="0.2">Logrank p=0.0457</text>
<text x="276.6" y="231.3" font-size="5.1" text-anchor="start" fill="#1a1a1a" stroke="#1a1a1a" stroke-width="0.2">MYC-DH</text>
<text x="276.6" y="237.3" font-size="5.1" text-anchor="start" fill="#1a1a1a" stroke="#1a1a1a" stroke-width="0.2">No MYC-DH</text>
<text x="239.6" y="378.5" font-size="5.1" text-anchor="middle" fill="#1a1a1a" stroke="#1a1a1a" stroke-width="0.2">No. of Subjects</text>
<text x="275" y="378.5" font-size="5.1" text-anchor="middle" fill="#1a1a1a" stroke="#1a1a1a" stroke-width="0.2">Event</text>
<text x="309.3" y="378.5" font-size="5.1" text-anchor="middle" fill="#1a1a1a" stroke="#1a1a1a" stroke-width="0.2">Censored</text>
<text x="356" y="378.5" font-size="5.1" text-anchor="middle" fill="#1a1a1a" stroke="#1a1a1a" stroke-width="0.2">Median Survival (95%CI)</text>
<text x="173.8" y="384.7" font-size="5.1" text-anchor="start" fill="#1a1a1a" stroke="#1a1a1a" stroke-width="0.2">MYC-DH</text>
<text x="240.2" y="384.7" font-size="5.1" text-anchor="middle" fill="#1a1a1a" stroke="#1a1a1a" stroke-width="0.2">32</text>
<text x="275" y="384.7" font-size="5.1" text-anchor="middle" fill="#1a1a1a" stroke="#1a1a1a" stroke-width="0.2">34.4% (11)</text>
<text x="309.3" y="384.7" font-size="5.1" text-anchor="middle" fill="#1a1a1a" stroke="#1a1a1a" stroke-width="0.2">65.6% (21 )</text>
<text x="356" y="384.7" font-size="5.1" text-anchor="middle" fill="#1a1a1a" stroke="#1a1a1a" stroke-width="0.2">Not reached</text>
<text x="173.8" y="390.5" font-size="5.1" text-anchor="start" fill="#1a1a1a" stroke="#1a1a1a" stroke-width="0.2">No MYC-DH</text>
<text x="240.2" y="390.5" font-size="5.1" text-anchor="middle" fill="#1a1a1a" stroke="#1a1a1a" stroke-width="0.2">523</text>
<text x="275" y="390.5" font-size="5.1" text-anchor="middle" fill="#1a1a1a" stroke="#1a1a1a" stroke-width="0.2">20.7% (108)</text>
<text x="309.3" y="390.5" font-size="5.1" text-anchor="middle" fill="#1a1a1a" stroke="#1a1a1a" stroke-width="0.2">79.3% (415 )</text>
<text x="356" y="390.5" font-size="5.1" text-anchor="middle" fill="#1a1a1a" stroke="#1a1a1a" stroke-width="0.2">Not reached</text>
</g>
</svg>
</body></html>
